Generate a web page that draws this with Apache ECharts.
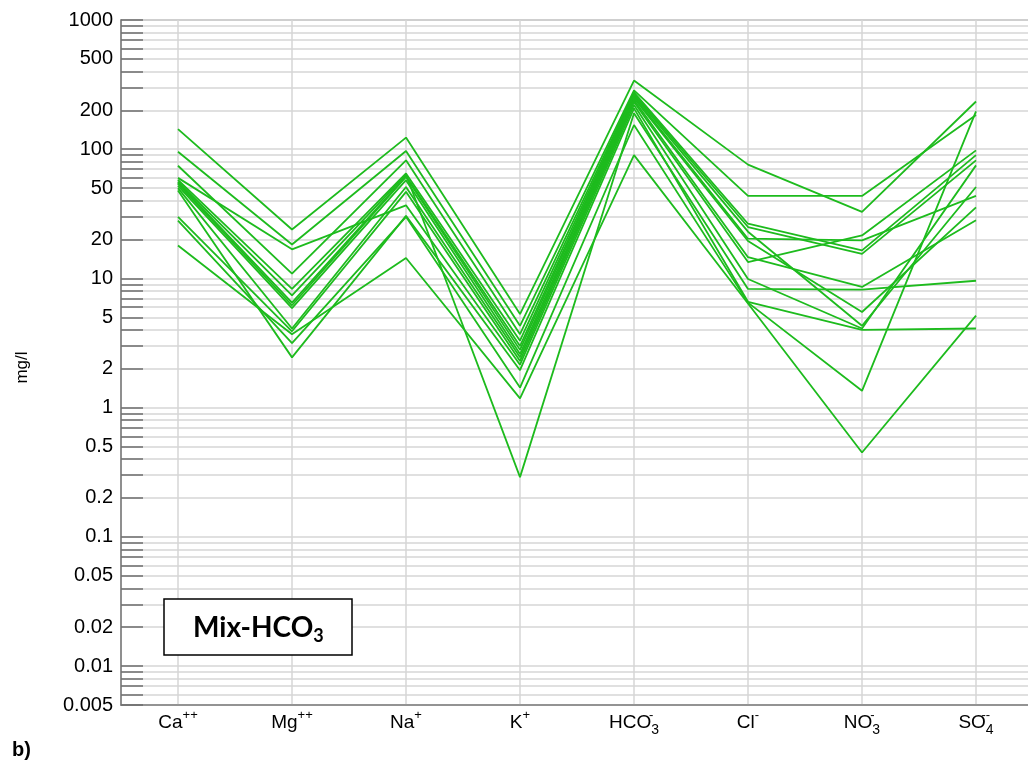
<!DOCTYPE html>
<html>
<head>
<meta charset="utf-8">
<script src="https://cdn.jsdelivr.net/npm/echarts@6/dist/echarts.min.js"></script>
<style>
  html, body { margin: 0; padding: 0; background: #fff; }
  #main { width: 1028px; height: 765px; }
</style>
</head>
<body>
<div id="main"></div>
<script>
// ions on the x axis
var ions = ['Ca++', 'Mg++', 'Na+', 'K+', 'HCO3-', 'Cl-', 'NO3-', 'SO4--'];
var ionLabels = {
  'Ca++': '{b|Ca}{p|++}',
  'Mg++': '{b|Mg}{p|++}',
  'Na+': '{b|Na}{p|+}',
  'K+': '{b|K}{p|+}',
  'HCO3-': '{b|HCO}{z|-}{s|3}',
  'Cl-': '{b|Cl}{p|-}',
  'NO3-': '{b|NO}{z|-}{s|3}',
  'SO4--': '{b|SO}{z|--}{s|4}'
};

// y axis labels (mg/l)
var yLabels = [0.005, 0.01, 0.02, 0.05, 0.1, 0.2, 0.5, 1, 2, 5, 10, 20, 50, 100, 200, 500, 1000];

// samples, values in mg/l in the order of ions
var s01 = [143, 23.9, 123, 5.3, 340, 76, 32.7, 234];
var s02 = [95.6, 18.3, 97, 4.3, 285, 43.5, 43.5, 184];
var s03 = [74.5, 10.9, 82, 3.7, 275, 26.5, 16.5, 90];
var s04 = [58, 8.3, 65, 3.3, 268, 25, 15.5, 82];
var s05 = [56, 7.4, 63.7, 0.29, 190, 8.3, 8.2, 9.6];
var s06 = [55, 6.5, 62, 3.0, 262, 23, 4.3, 51];
var s07 = [54, 6.2, 61, 2.8, 255, 20.3, 19.7, 43.5];
var s08 = [52, 5.9, 57.6, 2.6, 248, 19.5, 5.5, 35.5];
var s09 = [50, 4.1, 51, 2.45, 240, 14.6, 8.6, 28.2];
var s10 = [30, 3.9, 46.8, 2.3, 232, 13.4, 21.5, 98];
var s11 = [60, 16.8, 36.8, 2.15, 220, 9.9, 4.1, 75];
var s12 = [48, 2.45, 30.5, 1.95, 207, 6.6, 4.0, 4.1];
var s13 = [28, 3.16, 30, 1.43, 154, 6.5, 1.35, 196];
var s14 = [18, 3.7, 14.4, 1.18, 90, 6.4, 0.45, 5.15];
var samples = [s01, s02, s03, s04, s05, s06, s07, s08, s09, s10, s11, s12, s13, s14];

// minor ticks at every 1..9 x 10^k
var yTicks = [];
for (var k = -3; k <= 2; k++) {
  for (var m = 1; m <= 9; m++) {
    var v = Number((m * Math.pow(10, k)).toPrecision(3));
    if (v >= 0.005) yTicks.push(v);
  }
}
yTicks.push(1000);

var chart = echarts.init(document.getElementById('main'), null, { renderer: 'canvas' });

var option = {
  backgroundColor: '#ffffff',
  animation: false,
  textStyle: { fontFamily: 'Liberation Sans, Arial, sans-serif' },
  grid: {
    left: 121, top: 20, width: 912, height: 685,
    show: true, borderColor: '#a8a8a8', borderWidth: 1.5,
    outerBoundsMode: 'none'
  },
  xAxis: {
    type: 'category',
    data: ions,
    boundaryGap: true,
    axisLine: { show: true, lineStyle: { color: '#808080', width: 1.5 } },
    axisTick: { show: false },
    splitLine: { show: true, alignWithLabel: true, lineStyle: { color: '#d6d6d6', width: 1.5 } },
    axisLabel: {
      margin: 4,
      interval: 0,
      formatter: function (v) { return ionLabels[v]; },
      rich: {
        b: { fontSize: 19, color: '#000', lineHeight: 28, fontFamily: 'Liberation Sans' },
        p: { fontSize: 13, color: '#000', verticalAlign: 'top', lineHeight: 14, fontFamily: 'Liberation Sans' },
        z: { fontSize: 13, color: '#000', verticalAlign: 'top', lineHeight: 14, width: 0, fontFamily: 'Liberation Sans' },
        s: { fontSize: 14, color: '#000', verticalAlign: 'bottom', lineHeight: 16, fontFamily: 'Liberation Sans' }
      }
    }
  },
  yAxis: {
    type: 'log',
    logBase: 10,
    min: 0.005,
    max: 1000,
    name: 'mg/l',
    nameLocation: 'middle',
    nameRotate: 90,
    nameGap: 90,
    nameTextStyle: { fontSize: 17, color: '#000', padding: [0, 0, 0, -10] },
    axisLine: { show: true, lineStyle: { color: '#808080', width: 1.5 } },
    axisTick: {
      show: true, inside: true, length: 22,
      customValues: yTicks,
      lineStyle: { color: '#6e6e6e', width: 1.5 }
    },
    splitLine: { show: true, lineStyle: { color: '#d6d6d6', width: 1.5 } },
    axisLabel: {
      customValues: yLabels,
      fontSize: 20,
      color: '#000',
      margin: 8,
      formatter: function (v) { return String(v); }
    }
  },
  series: samples.map(function (s, i) {
    return {
      name: 'sample ' + (i + 1),
      type: 'line',
      data: s,
      symbol: 'none',
      silent: true,
      lineStyle: { color: '#1dbb1d', width: 1.8 }
    };
  }),
  graphic: [
    {
      type: 'rect',
      shape: { x: 164, y: 599, width: 188, height: 56 },
      style: { fill: '#fff', stroke: '#000', lineWidth: 1.5 },
      z: 100
    },
    {
      type: 'text',
      x: 193, y: 628,
      style: {
        text: '{m|Mix-HCO}{n|3}',
        verticalAlign: 'middle',
        rich: {
          m: { fontSize: 28, fontWeight: 'bold', fontFamily: 'Lato', fill: '#000', lineHeight: 34 },
          n: { fontSize: 18, fontWeight: 'bold', fontFamily: 'Lato', fill: '#000', verticalAlign: 'bottom', lineHeight: 20 }
        }
      },
      z: 101
    },
    {
      type: 'text',
      x: 12, y: 750,
      style: { text: 'b)', fontSize: 20, fontWeight: 'bold', fontFamily: 'Liberation Sans', fill: '#000', verticalAlign: 'middle' }
    }
  ]
};

chart.setOption(option);
</script>
</body>
</html>
